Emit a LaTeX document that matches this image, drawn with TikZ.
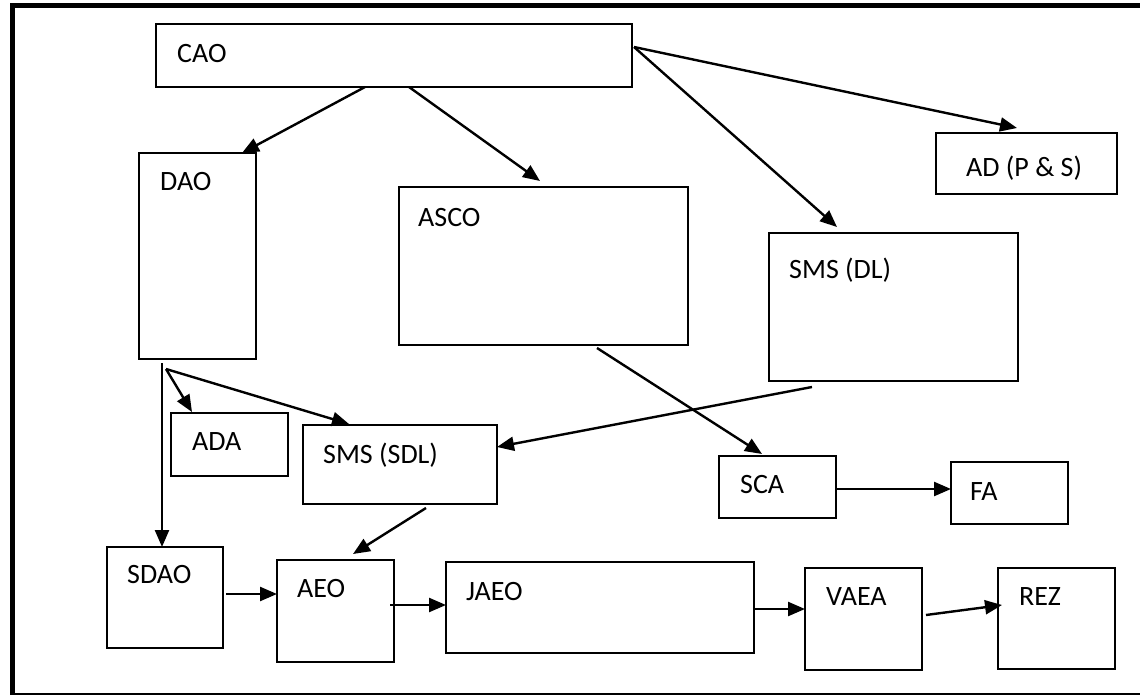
\documentclass[tikz,border=0pt]{standalone}
\usepackage{fontspec}
\setmainfont{Carlito}
\usetikzlibrary{arrows.meta}
\begin{document}
\begin{tikzpicture}[x=1pt,y=-1pt,
  box/.style={draw, rectangle, line width=2.4pt, inner sep=0pt, outer sep=0pt},
  lbl/.style={anchor=base west, inner sep=0pt, font=\fontsize{28}{33}\selectfont},
  arr/.style={line width=2.4pt, -{Triangle[length=17pt,width=14pt]}}]
\useasboundingbox (0,0) rectangle (1140,695);
% frame
\draw[line width=5.5pt, line join=miter] (12.5,695) -- (12.5,5.5) -- (1140,5.5);
\draw[line width=1.5pt] (15,694) -- (1140,694);
% boxes
\node[box, minimum width=476pt, minimum height=63pt] (cao) at (394,55.5) {};
\node[box, minimum width=117pt, minimum height=206pt] (dao) at (197.5,256) {};
\node[box, minimum width=289pt, minimum height=158pt] (asco) at (543.5,266) {};
\node[box, minimum width=249pt, minimum height=148pt] (smsdl) at (893.5,307) {};
\node[box, minimum width=181pt, minimum height=61pt] (ad) at (1026.5,163.5) {};
\node[box, minimum width=117pt, minimum height=63pt] (ada) at (229.5,444.5) {};
\node[box, minimum width=194pt, minimum height=79pt] (smssdl) at (400,464.5) {};
\node[box, minimum width=117pt, minimum height=62pt] (sca) at (777.5,487) {};
\node[box, minimum width=117pt, minimum height=62pt] (fa) at (1009.5,493) {};
\node[box, minimum width=116pt, minimum height=101pt] (sdao) at (165,597.5) {};
\node[box, minimum width=117pt, minimum height=102pt] (aeo) at (335.5,611) {};
\node[box, minimum width=308pt, minimum height=91pt] (jaeo) at (600,607.5) {};
\node[box, minimum width=117pt, minimum height=102pt] (vaea) at (863.5,619) {};
\node[box, minimum width=117pt, minimum height=101pt] (rez) at (1056.5,618.5) {};
% labels
\node[lbl] (caot) at (177,63) {CAO};
\node[lbl] (daot) at (160,190) {DAO};
\node[lbl] (ascot) at (418,226) {ASCO};
\node[lbl] (smsdlt) at (789,278) {SMS (DL)};
\node[lbl] (adt) at (966,177) {AD (P \& S)};
\node[lbl] (adat) at (192,450) {ADA};
\node[lbl] (smssdlt) at (323,463) {SMS (SDL)};
\node[lbl] (scat) at (740,493) {SCA};
\node[lbl] (fat) at (970,500) {FA};
\node[lbl] (sdaot) at (127,583) {SDAO};
\node[lbl] (aeot) at (297,597) {AEO};
\node[lbl] (jaeot) at (466,600) {JAEO};
\node[lbl] (vaeat) at (826,605) {VAEA};
\node[lbl] (rezt) at (1019,605) {REZ};
% connectors
\draw[arr] ([xshift=-29]cao.south) -- ([xshift=103]dao.north west);
\draw[arr] ([xshift=15]cao.south) -- ([xshift=141,yshift=6]asco.north west);
\draw[arr] ([xshift=2,yshift=-23]cao.north east) -- ([xshift=68,yshift=6]smsdl.north west);
\draw[arr] ([xshift=2,yshift=-23]cao.north east) -- ([xshift=81,yshift=5]ad.north west);
\draw[arr] ([xshift=27,yshift=-10]dao.south west) -- ([xshift=21,yshift=1]ada.north west);
\draw[arr] ([xshift=27,yshift=-10]dao.south west) -- ([xshift=46,yshift=1]smssdl.north west);
\draw[arr] ([xshift=23,yshift=-4]dao.south west) -- ([xshift=55]sdao.north west);
\draw[arr] ([xshift=-91,yshift=-3]asco.south east) -- ([xshift=43,yshift=2]sca.north west);
\draw[arr] ([xshift=43,yshift=-6]smsdl.south west) -- ([yshift=-22]smssdl.north east);
\draw[arr] ([xshift=-71,yshift=-4]smssdl.south east) -- ([xshift=76,yshift=6]aeo.north west);
\draw[arr] ([xshift=3,yshift=-47]sdao.north east) -- ([yshift=-34]aeo.north west);
\draw[arr] ([xshift=-4,yshift=-45]aeo.north east) -- ([yshift=-43]jaeo.north west);
\draw[arr] ([xshift=1,yshift=-47]jaeo.north east) -- ([yshift=-41]vaea.north west);
\draw[arr] ([xshift=4,yshift=-47]vaea.north east) -- ([xshift=4,yshift=-37]rez.north west);
\draw[arr] ([yshift=-33]sca.north east) -- ([yshift=-27]fa.north west);
\end{tikzpicture}
\end{document}
